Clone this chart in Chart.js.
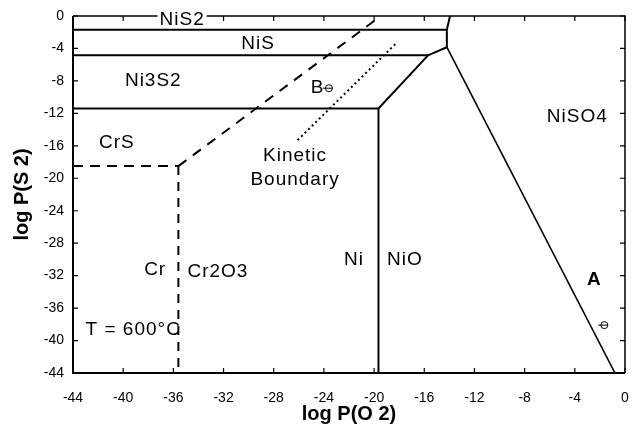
<!DOCTYPE html>
<html>
<head>
<meta charset="utf-8">
<script src="https://cdn.jsdelivr.net/npm/chart.js@4/dist/chart.umd.min.js"></script>
<style>
  body { margin: 0; background: #fff; }
  canvas { display: block; }
</style>
</head>
<body>
<canvas id="myChart" width="632" height="427"></canvas>
<script>
// diagramme de stabilité Ni-Cr-S-O à 600 °C
// valeurs (log P en atm)

const axisTicks = [-44, -40, -36, -32, -28, -24, -20, -16, -12, -8, -4, 0];

// frontières Ni (trait plein)
const niS2Line    = [{x: -44, y: -1.7}, {x: -14.2, y: -1.7}];
const topLine     = [{x: -13.95, y: 0}, {x: -14.2, y: -1.7}, {x: -14.2, y: -3.85}];
const niSLine     = [{x: -44, y: -4.85}, {x: -15.7, y: -4.85}, {x: -14.2, y: -3.85}];
const ni3S2Line   = [{x: -44, y: -11.4}, {x: -19.65, y: -11.4}, {x: -15.7, y: -4.85}];
const niNiOLine   = [{x: -19.65, y: -11.4}, {x: -19.65, y: -44}];
const niSO4Line   = [{x: -14.2, y: -3.85}, {x: -0.8, y: -44}];

// frontières Cr (tirets)
const crSLine     = [{x: -44, y: -18.5}, {x: -35.6, y: -18.5}];
const crOxLine    = [{x: -35.6, y: -18.5}, {x: -35.6, y: -44}];
const crSOxLine   = [{x: -35.6, y: -18.5}, {x: -19.9, y: -0.5}];

// frontière cinétique (pointillés)
const kineticLine = [{x: -26.1, y: -15.3}, {x: -18.2, y: -3.3}];

// étiquettes des domaines
const phaseLabels = [
  {text: 'NiS2', x: -35.3, y: -0.5, box: true},
  {text: 'NiS', x: -29.25, y: -3.45},
  {text: 'Ni3S2', x: -37.6, y: -8.0},
  {text: 'CrS', x: -40.5, y: -15.65},
  {text: 'B', x: -24.5, y: -8.8},
  {text: 'Kinetic', x: -26.3, y: -17.25},
  {text: 'Boundary', x: -26.3, y: -20.2},
  {text: 'NiSO4', x: -3.8, y: -12.45},
  {text: 'Cr', x: -37.45, y: -31.3},
  {text: 'Cr2O3', x: -32.45, y: -31.55},
  {text: 'T = 600°C', x: -39.2, y: -38.7},
  {text: 'Ni', x: -21.6, y: -30.1},
  {text: 'NiO', x: -17.55, y: -30.1},
  {text: 'A', x: -2.45, y: -32.5, bold: true}
];
// petits cercles (points B et A)
const markers = [{x: -23.6, y: -8.9}, {x: -1.65, y: -38.1}];

const FONT = "'Liberation Sans', Arial, Helvetica, sans-serif";
Chart.defaults.font.family = FONT;
Chart.defaults.color = '#000';

function seg(data, dash, width) {
  return {
    data: data,
    showLine: true,
    borderColor: '#000',
    borderWidth: width || 2,
    borderDash: dash || [],
    pointRadius: 0,
    fill: false,
    tension: 0
  };
}

// cadre, graduations intérieures et étiquettes
const decorPlugin = {
  id: 'decor',
  afterDraw(chart) {
    const c = chart.ctx;
    const a = chart.chartArea;
    const xs = chart.scales.x, ys = chart.scales.y;
    c.save();
    c.strokeStyle = '#000';
    // cadre
    c.lineWidth = 1.5;
    c.beginPath();
    c.moveTo(a.left, a.top); c.lineTo(a.right, a.top); c.lineTo(a.right, a.bottom);
    c.stroke();
    c.lineWidth = 2;
    c.beginPath();
    c.moveTo(a.left, a.top); c.lineTo(a.left, a.bottom); c.lineTo(a.right, a.bottom);
    c.stroke();
    // graduations
    c.lineWidth = 1.2;
    const tl = 5;
    axisTicks.forEach(v => {
      const px = xs.getPixelForValue(v);
      const py = ys.getPixelForValue(v);
      c.beginPath();
      c.moveTo(px, a.bottom); c.lineTo(px, a.bottom - tl);
      c.moveTo(px, a.top); c.lineTo(px, a.top + tl);
      c.moveTo(a.left, py); c.lineTo(a.left + tl, py);
      c.moveTo(a.right, py); c.lineTo(a.right - tl, py);
      c.stroke();
    });
    // étiquettes
    c.textAlign = 'center';
    c.textBaseline = 'middle';
    c.letterSpacing = '1px';
    phaseLabels.forEach(l => {
      const px = xs.getPixelForValue(l.x);
      const py = ys.getPixelForValue(l.y);
      c.font = (l.bold ? 'bold ' : '') + '19px ' + FONT;
      if (l.box) {
        const w = c.measureText(l.text).width;
        c.fillStyle = '#fff';
        c.fillRect(px - w / 2 - 2, py - 9, w + 4, 16);
      }
      c.fillStyle = '#000';
      c.fillText(l.text, px, py);
    });
    c.lineWidth = 1;
    markers.forEach(m => {
      const px = xs.getPixelForValue(m.x);
      const py = ys.getPixelForValue(m.y);
      c.beginPath();
      c.arc(px, py, 3.5, 0, Math.PI * 2);
      c.moveTo(px - 6, py); c.lineTo(px + 3.5, py);
      c.stroke();
    });
    c.restore();
  }
};

const ctx = document.getElementById('myChart');
const myChart = new Chart(ctx, {
  type: 'scatter',
  data: {
    datasets: [
      seg(niS2Line), seg(topLine), seg(niSLine), seg(ni3S2Line),
      seg(niNiOLine), seg(niSO4Line, [], 1.6),
      seg(crSLine, [10, 7]), seg(crOxLine, [9, 7]), seg(crSOxLine, [10, 8]),
      seg(kineticLine, [2, 3])
    ]
  },
  options: {
    responsive: false,
    animation: false,
    layout: { padding: { left: 0, right: 7, top: 16, bottom: 0 } },
    plugins: {
      legend: { display: false },
      title: { display: false },
      tooltip: { enabled: false }
    },
    scales: {
      x: {
        type: 'linear',
        min: -44,
        max: 0,
        afterBuildTicks: s => { s.ticks = axisTicks.map(v => ({value: v})); },
        afterFit: s => { s.height = 54; s.paddingLeft = 0; s.paddingRight = 0; },
        grid: { display: false, drawTicks: false },
        border: { display: false },
        ticks: { font: { size: 14 }, color: '#000', padding: 17, maxRotation: 0 },
        title: {
          display: true,
          text: 'log P(O 2)',
          font: { size: 20, weight: 'bold' },
          color: '#000',
          padding: { top: 0, bottom: 1 }
        }
      },
      y: {
        type: 'linear',
        min: -44,
        max: 0,
        afterBuildTicks: s => { s.ticks = axisTicks.map(v => ({value: v})); },
        afterFit: s => { s.width = 73; s.paddingTop = 0; s.paddingBottom = 0; },
        grid: { display: false, drawTicks: false },
        border: { display: false },
        ticks: { font: { size: 14 }, color: '#000', padding: 9 },
        title: {
          display: true,
          text: 'log P(S 2)',
          font: { size: 20, weight: 'bold' },
          color: '#000',
          padding: { top: 10, bottom: 0 }
        }
      }
    }
  },
  plugins: [decorPlugin]
});
</script>
</body>
</html>
